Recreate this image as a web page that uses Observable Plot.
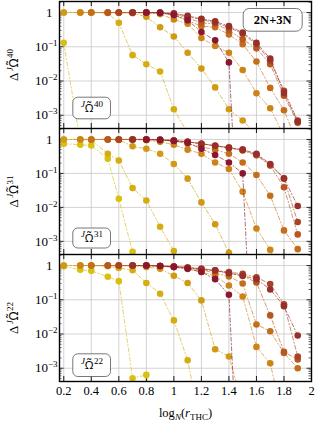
<!DOCTYPE html>
<html><head><meta charset="utf-8">
<script src="https://cdn.jsdelivr.net/npm/d3@7"></script>
<script src="https://cdn.jsdelivr.net/npm/@observablehq/plot@0.6"></script>
<style>
html,body{margin:0;padding:0;background:#fff;}
#chart{width:320px;}
#chart svg{display:block;}
</style></head><body><div id="chart"></div>
<script>
// ---- data ----
const xGrid = [0.2,0.32,0.4,0.52,0.6,0.7,0.8,0.9,1.0,1.1,1.2,1.3,1.4,1.5,1.6,1.7,1.8,1.9];
const seriesColors = ["#d8c010","#d5ad12","#d09a14","#cc8418","#c46e1c","#b8571f","#a84326","#97302a","#8a1630"];

const om40_s1 = [0.13, 1.7e-4];
const om40_s2 = [1, 1, 1, 0.97, 0.5, 0.057, 0.031, 0.019, 1.5e-3, 3e-4];
const om40_s3 = [1, 1, 1, 1, 0.98, 0.95, 0.75, 0.37, 0.2, 0.067, 0.023, 6.5e-3, 1.5e-3, 7e-4, 2.7e-4];
const om40_s4 = [null, 1, 1, 1, 1, 1, 0.97, 0.9, 0.63, 0.47, 0.18, 0.105, 0.067, 0.021, 4.4e-3, 1.6e-3, 2.5e-4];
const om40_s5 = [null, null, 1, 1, 1, 1, 1, 0.97, 0.84, 0.58, 0.4, 0.37, 0.23, 0.118, 0.037, 6.3e-3, 1.4e-3, 1.5e-4];
const om40_s6 = [null, null, null, 1, 1, 1, 1, 0.98, 0.9, 0.7, 0.5, 0.47, 0.3, 0.165, 0.09, 0.031, 3.7e-3, 6e-4];
const om40_s7 = [null, null, null, null, 1, 1, 1, 0.98, 0.92, 0.75, 0.63, 0.5, 0.37, 0.24, 0.118, 0.039, 5.2e-3, 7e-4];
const om40_s8 = [null, null, null, null, null, 1, 1, 1, 0.95, 0.8, 0.66, 0.55, 0.4, 0.26, 0.13, 0.045, 4.5e-3, 6.5e-4];
const om40_s9 = [null, null, null, null, null, null, 1, 0.98, 0.85, 0.6, 0.27, 0.154, 0.035, 1e-9];

const om31_s1 = [0.75, 0.7, 0.66, 0.27, 0.018, 4.9e-4];
const om31_s2 = [1, 1, 0.95, 0.38, 0.24, 0.037, 0.016, 2.7e-3, 5.2e-4, 3e-5];
const om31_s3 = [1, 1, 1, 1, 0.97, 0.63, 0.53, 0.38, 0.19, 0.07, 0.014, 3.2e-3, 4.6e-4, 2e-5];
const om31_s4 = [null, 1, 1, 1, 1, 1, 0.95, 0.85, 0.7, 0.5, 0.38, 0.21, 0.135, 0.029, 2.4e-3, 5.6e-4, 5e-5];
const om31_s5 = [null, null, 1, 1, 1, 1, 1, 0.95, 0.9, 0.75, 0.6, 0.5, 0.38, 0.21, 0.09, 0.022, 2.1e-3, 5.9e-4];
const om31_s6 = [null, null, null, 1, 1, 1, 1, 0.97, 0.93, 0.85, 0.75, 0.65, 0.59, 0.47, 0.34, 0.17, 0.039, 1.6e-3];
const om31_s7 = [null, null, null, null, 1, 1, 1, 0.97, 0.93, 0.85, 0.75, 0.65, 0.55, 0.5, 0.36, 0.18, 0.07, 3.7e-3];
const om31_s8 = [null, null, null, null, null, 1, 1, 0.97, 0.93, 0.85, 0.75, 0.65, 0.57, 0.5, 0.38, 0.19, 0.072, 0.011];
const om31_s9 = [null, null, null, null, null, null, 1, 0.97, 0.9, 0.8, 0.53, 0.35, 0.21, 0.1, 1e-9];

const om22_s1 = [0.95, 0.75, 0.7, 0.47, 0.35, 5.1e-4, 6.4e-4, 1e-5];
const om22_s2 = [1, 1, 1, 0.95, 0.85, 0.73, 0.31, 0.15, 0.025, 1.7e-3, 1.6e-5];
const om22_s3 = [1, 1, 1, 1, 1, 0.97, 0.9, 0.8, 0.5, 0.31, 0.096, 3.6e-3, 2.2e-3, 8e-5];
const om22_s4 = [null, 1, 1, 1, 1, 1, 1, 0.95, 0.9, 0.8, 0.65, 0.5, 0.26, 0.125, 4.2e-3, 1.4e-3, 2.5e-5];
const om22_s5 = [null, null, 1, 1, 1, 1, 1, 0.97, 0.93, 0.85, 0.75, 0.6, 0.48, 0.3, 0.019, 0.012, 2.8e-3, 1e-3];
const om22_s6 = [null, null, null, 1, 1, 1, 1, 0.97, 0.93, 0.85, 0.75, 0.7, 0.6, 0.5, 0.32, 0.035, 3e-3, 1.8e-3];
const om22_s7 = [null, null, null, null, 1, 1, 1, 0.97, 0.93, 0.88, 0.8, 0.73, 0.64, 0.57, 0.45, 0.29, 0.074, 2.2e-3];
const om22_s8 = [null, null, null, null, null, 1, 1, 0.97, 0.93, 0.88, 0.8, 0.72, 0.6, 0.5, 0.4, 0.2, 0.065, 9e-3];
const om22_s9 = [null, null, null, null, null, null, 1, 0.97, 0.9, 0.8, 0.65, 0.4, 0.14, 1e-9];

const xTicks = [0.2, 0.4, 0.6, 0.8, 1, 1.2, 1.4, 1.6, 1.8, 2];
const xTickLabels = ["0.2","0.4","0.6","0.8","1","1.2","1.4","1.6","1.8","2"];
const yMajor = [1, 0.1, 0.01, 0.001];
const yTickExps = [0, -1, -2, -3];
const panelNames = ["40", "31", "22"];
const tagLabel = "2N+3N";

// ---- layout ----
const W = 320, ML = 59, MR = 9;
const innerW = W - ML - MR;
const xDomain = [0.169, 2.0];
const yDomain = [4.1e-4, 2.1];
const yMinor = [];
for (let k = -4; k <= 0; k++) for (let m = 2; m <= 9; m++) {
  const v = m * Math.pow(10, k);
  if (v >= yDomain[0] && v <= yDomain[1]) yMinor.push(v);
}

const sup = (s, it, dx) => `<tspan font-size="9" baseline-shift="5"${it ? ' font-style="italic"' : ''}${dx ? ` dx="${dx}"` : ''}>${s}</tspan>`;
const sub = (s, it) => `<tspan font-size="9" baseline-shift="-3"${it ? ' font-style="italic"' : ''}>${s}</tspan>`;
// Omega with combining tilde, set in a font that positions the mark
const OMT = `<tspan font-family="Noto Sans" font-size="92%">\u03A9\u0303</tspan>`;
const MARKUP = {
  "@@xlab": "log" + sub("N", true) + "(" + '<tspan font-style="italic">r</tspan>' + sub("THC") + ")"
};
yTickExps.forEach(e => { MARKUP["@@e" + e] = "10" + sup("\u2212" + (-e)); });
panelNames.forEach(n => {
  MARKUP["@@ylab" + n] = "\u0394" + sup("J", true, 1.5) + OMT + sup(n, false, 0.6);
  MARKUP["@@box" + n] = sup("J", true) + OMT + sup(n, false, 0.6);
});
function applyMarkup(svg) {
  svg.querySelectorAll("text").forEach(t => {
    const s = t.textContent.trim();
    if (MARKUP[s]) t.innerHTML = MARKUP[s];
  });
}

const panels = [
  {name: "40", series: [om40_s1,om40_s2,om40_s3,om40_s4,om40_s5,om40_s6,om40_s7,om40_s8,om40_s9],
   height: 128, mt: 1, mb: 0, box: {top: 95.7, bottom: 9.7}, boxDy: -20.5, tag: true},
  {name: "31", series: [om31_s1,om31_s2,om31_s3,om31_s4,om31_s5,om31_s6,om31_s7,om31_s8,om31_s9],
   height: 126, mt: 0, mb: 0, box: {top: 99.5, bottom: 6.5}, boxDy: -16.5},
  {name: "22", series: [om22_s1,om22_s2,om22_s3,om22_s4,om22_s5,om22_s6,om22_s7,om22_s8,om22_s9],
   height: 169, mt: 0, mb: 42, box: {top: 99.3, bottom: 5}, boxDy: -16.3, xAxis: true}
];

const chart = document.getElementById("chart");
const FONT = "'Liberation Serif', 'DejaVu Serif', serif";

panels.forEach(p => {
  const innerH = p.height - p.mt - p.mb;
  const rows = p.series.map((ys, s) => ys.map((y, j) => ({x: xGrid[j], y, s})).filter(d => d.y != null));
  const marks = [
    Plot.gridX(xTicks.slice(0, -1), {stroke: "#c8c8c8", strokeOpacity: 1, strokeWidth: 0.8}),
    Plot.gridY(yMajor, {stroke: "#c8c8c8", strokeOpacity: 1, strokeWidth: 0.8}),
    Plot.tickY(yMajor, {y: d => d, insetRight: innerW - 4.5, stroke: "black", strokeWidth: 0.8}),
    Plot.tickY(yMajor, {y: d => d, insetLeft: innerW - 4.5, stroke: "black", strokeWidth: 0.8}),
    Plot.tickY(yMinor, {y: d => d, insetRight: innerW - 2.5, stroke: "black", strokeWidth: 0.6}),
    Plot.tickY(yMinor, {y: d => d, insetLeft: innerW - 2.5, stroke: "black", strokeWidth: 0.6}),
    Plot.tickX(xTicks, {x: d => d, insetBottom: innerH - 5, stroke: "black", strokeWidth: 0.9}),
    Plot.tickX(xTicks, {x: d => d, insetTop: innerH - 5, stroke: "black", strokeWidth: 0.9}),
    ...rows.flatMap(r => [
      Plot.line(r, {x: "x", y: "y", stroke: "s", strokeWidth: 0.8, strokeDasharray: "4,2.2,1.2,2.2", strokeOpacity: 0.8, clip: true}),
      Plot.dot(r, {x: "x", y: "y", fill: "s", r: 3.3, clip: true})
    ]),
    Plot.frame({stroke: "black", strokeWidth: 1.4}),
    Plot.axisY([1], {anchor: "left", tickSize: 0, tickPadding: 7, tickFormat: () => "1", fontSize: 13, label: null}),
    Plot.axisY(yMajor.slice(1), {anchor: "left", tickSize: 0, tickPadding: 2, tickFormat: d => "@@e" + Math.round(Math.log10(d)), fontSize: 13, label: null}),
    Plot.text(["@@ylab" + p.name], {text: d => d, frameAnchor: "left", dx: -46, rotate: -90, textAnchor: "middle", lineAnchor: "middle", fontSize: 13}),
    Plot.frame({insetLeft: 13.3, insetRight: innerW - 51, insetTop: p.box.top, insetBottom: p.box.bottom, rx: 5, stroke: "#555", strokeWidth: 0.8, fill: "white", fillOpacity: 0.85}),
    Plot.text(["@@box" + p.name], {text: d => d, frameAnchor: "bottom-left", dx: 32.5, dy: p.boxDy, textAnchor: "middle", lineAnchor: "middle", fontSize: 12.5})
  ];
  if (p.tag) {
    marks.push(
      Plot.frame({insetLeft: 183.7, insetRight: 9.3, insetTop: 7, insetBottom: innerH - 29.7, rx: 6, stroke: "#555", strokeWidth: 0.8, fill: "white", fillOpacity: 0.85}),
      Plot.text([tagLabel], {text: d => d, frameAnchor: "top-left", dx: 213.2, dy: 18.3, textAnchor: "middle", lineAnchor: "middle", fontSize: 12.5, fontWeight: "bold"})
    );
  }
  if (p.xAxis) {
    marks.push(
      Plot.axisX(xTicks, {anchor: "bottom", tickSize: 0, tickPadding: 5, tickFormat: d => xTickLabels[xTicks.indexOf(d)], fontSize: 12.5, label: null}),
      Plot.text(["@@xlab"], {text: d => d, frameAnchor: "bottom", dy: 31, textAnchor: "middle", lineAnchor: "middle", fontSize: 12.5})
    );
  }
  const svg = Plot.plot({
    width: W, height: p.height,
    marginLeft: ML, marginRight: MR, marginTop: p.mt, marginBottom: p.mb,
    style: {fontFamily: FONT, background: "white", color: "black"},
    x: {domain: xDomain, axis: null},
    y: {type: "log", domain: yDomain, axis: null},
    color: {type: "ordinal", domain: d3.range(9), range: seriesColors},
    marks
  });
  applyMarkup(svg);
  chart.appendChild(svg);
});
</script></body></html>
